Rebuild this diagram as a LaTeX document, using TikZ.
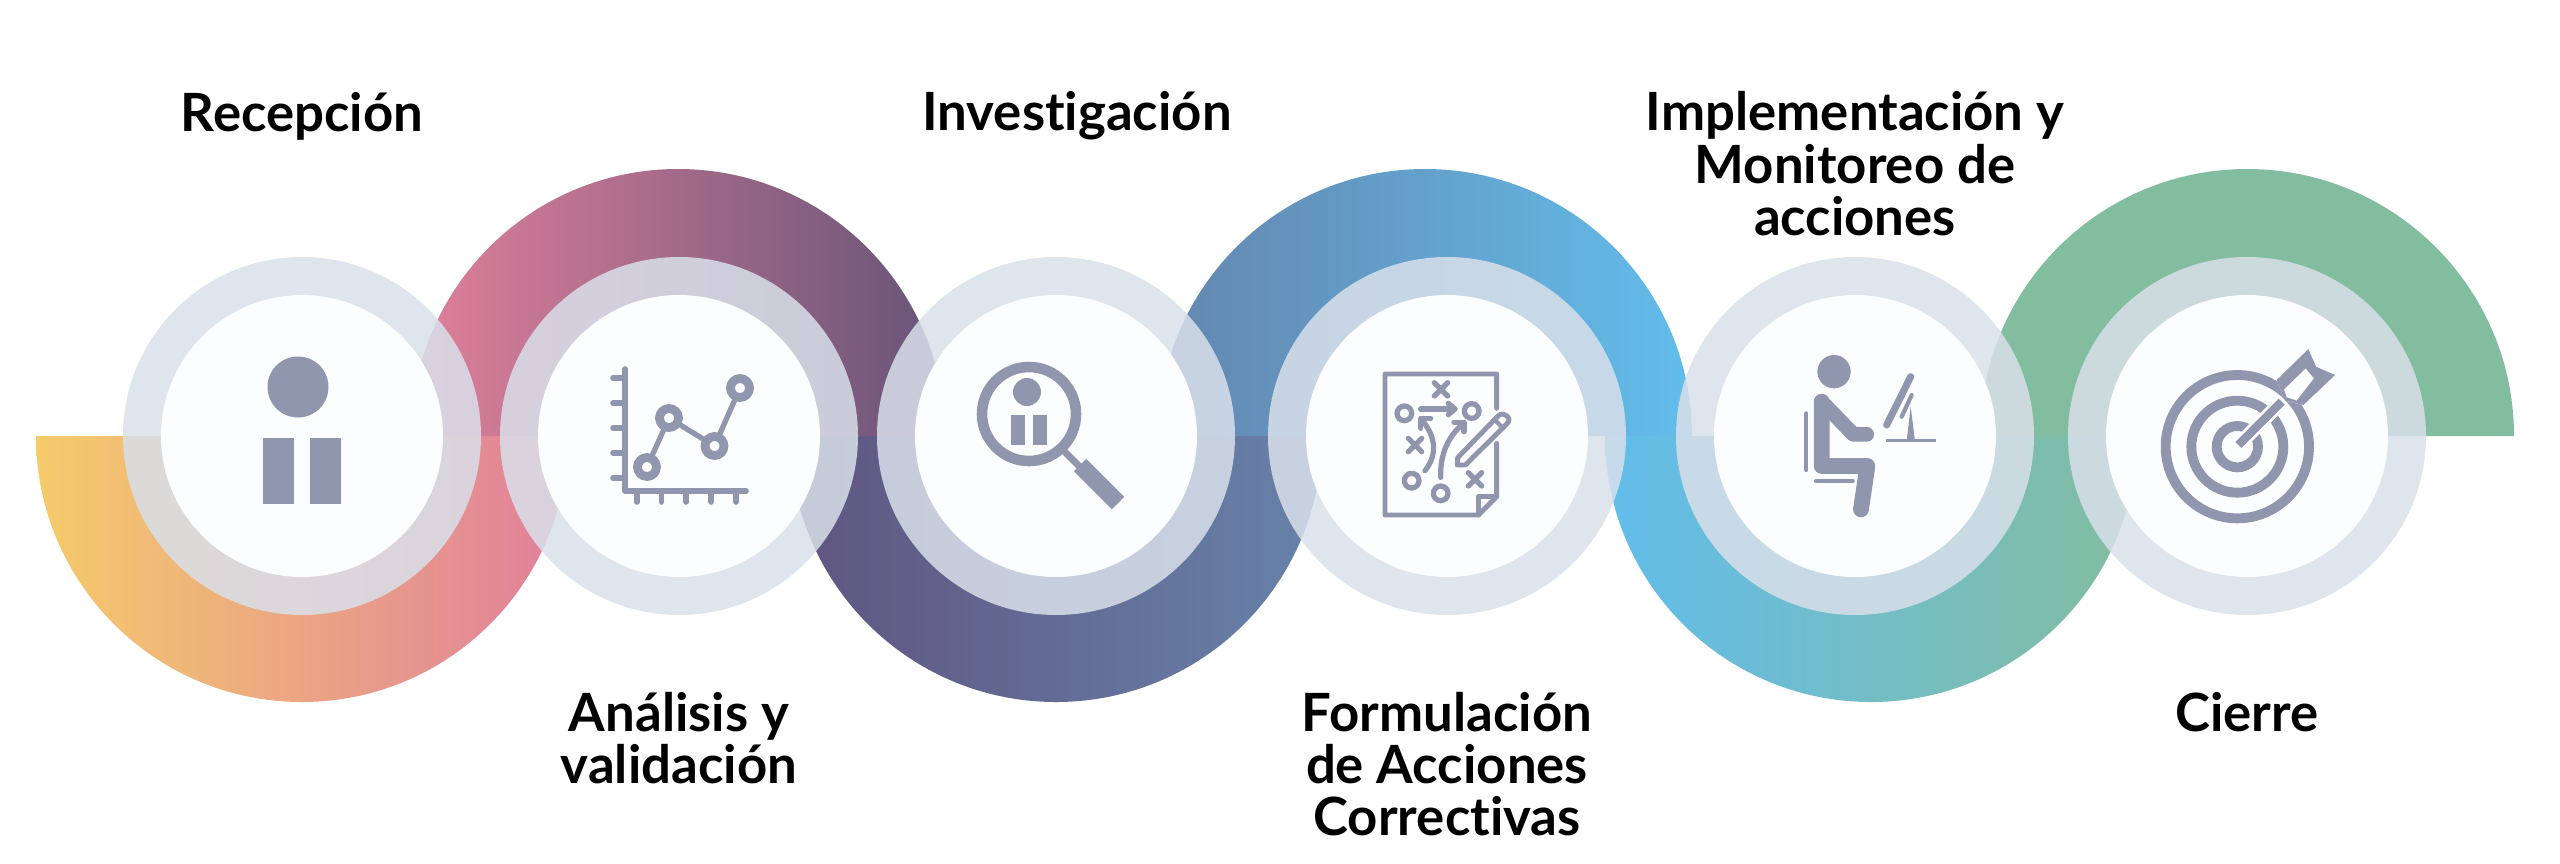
\documentclass[tikz,border=0pt]{standalone}
\usepackage{fontspec}
\setmainfont{Lato}[Ligatures=NoCommon]
\usetikzlibrary{calc,arrows.meta}
\definecolor{bandyellow}{HTML}{F5CB6B}
\definecolor{bandpink}{HTML}{E07F9C}
\definecolor{bandrose}{HTML}{E0809A}
\definecolor{bandplum}{HTML}{665478}
\definecolor{bandgrape}{HTML}{5F5580}
\definecolor{bandslate}{HTML}{6782A9}
\definecolor{bandsteel}{HTML}{6486AE}
\definecolor{bandsky}{HTML}{62BDEB}
\definecolor{bandgreen}{HTML}{83BDA0}
\definecolor{ringcol}{HTML}{D9E0EA}
\definecolor{discol}{HTML}{FCFDFE}
\definecolor{iconcol}{HTML}{9196AF}
\tikzset{
    steplabel/.style={font=\fontsize{15}{14.9}\selectfont\bfseries,align=center,text=black,inner sep=0pt},
    iconline/.style={draw=iconcol,line width=#1,line cap=round,line join=round},
    iconfill/.style={fill=iconcol,draw=none}
}

\begin{document}
\begin{tikzpicture}[x=0.01cm,y=-0.01cm]
    \useasboundingbox (0,0) rectangle (2560,863);
    \foreach \cx/\colL/\colR in {302/bandyellow/bandpink,1056/bandgrape/bandslate,1871/bandsky/bandgreen}
        \shade[left color=\colL,right color=\colR] (\cx-266,436) arc[start angle=180,end angle=0,radius=266] -- cycle;
    \foreach \cx/\colL/\colR in {678/bandrose/bandplum,1425/bandsteel/bandsky,2247/bandgreen/bandgreen}
        \shade[left color=\colL,right color=\colR] (\cx-267,436) arc[start angle=180,end angle=360,radius=267] -- cycle;
    \foreach \cx in {302,679,1056,1447,1855,2247} {
        \fill[ringcol,opacity=0.85] (\cx,436) circle[radius=179];
        \fill[discol] (\cx,436) circle[radius=141];
    }

    \fill[iconfill] (298,387) circle[radius=30.5];
    \fill[iconfill] (263,438) rectangle (294,504);
    \fill[iconfill] (310,438) rectangle (341,504);

    \draw[iconline=1.6pt] (625,369) -- (625,491) -- (746,491);
    \foreach \y in {378,403,428,453,478}
        \draw[iconline=1.6pt] (613,\y) -- (625,\y);
    \foreach \x in {637,661.5,686,711,736}
        \draw[iconline=1.6pt] (\x,491) -- (\x,502);
    \draw[iconline=1.5pt] (647,467) -- (669,418) -- (714.5,446) -- (740,388);
    \foreach \x/\y in {647/467,669/418,714.5/446,740/388}
        \draw[iconline=2.5pt,fill=discol] (\x,\y) circle[radius=9.5];

    \draw[iconline=3pt] (1029,414) circle[radius=47];
    \fill[iconfill] (1027,392) circle[radius=14];
    \fill[iconfill] (1011,415) rectangle (1025,445);
    \fill[iconfill] (1033,415) rectangle (1047,445);
    \draw[iconline=2pt] (1065,452) -- (1080,467);
    \draw[iconcol,line width=5pt,line join=round] (1080,465) -- (1118,503);

    \begin{scope}[shift={(1360,350)},scale=1/3]
        \draw[iconline=1.4pt] (410,175) -- (410,72) -- (75,72) -- (75,495) -- (355,495) -- (410,440) -- (410,280);
        \draw[iconline=1.4pt] (355,495) -- (355,440) -- (410,440);
        \foreach \x/\y in {133/190,335/183,155/392,242/430}
            \draw[iconline=1.5pt] (\x,\y) circle[radius=22];
        \foreach \x/\y in {243/118,165/285,345/388}
            \draw[iconline=1.5pt] (\x-20,\y-20) -- (\x+20,\y+20) (\x-20,\y+20) -- (\x+20,\y-20);
        \draw[iconline=1.5pt] (182,177) -- (282,177);
        \draw[iconline=1.5pt] (265,160) -- (285,177) -- (265,194);
        \draw[iconline=1.5pt] (195,362) .. controls (235,310) and (225,260) .. (188,212);
        \draw[iconline=1.5pt] (182,235) -- (182,205) -- (212,205);
        \draw[iconline=1.5pt] (242,382) .. controls (240,310) and (265,260) .. (308,222);
        \draw[iconline=1.5pt] (282,217) -- (312,217) -- (312,245);
        \draw[iconline=1.4pt] (292,345) -- (293,323) -- (415,197) .. controls (430,182) and (460,205) .. (440,222) -- (316,345) -- cycle;
        \draw[iconline=1.2pt] (403,209) -- (430,235);
    \end{scope}

    \begin{scope}[shift={(1760,340)},scale=1/3]
        \fill[iconfill] (222,95) circle[radius=50];
        \draw[iconline=4.5pt] (185,185) -- (185,378) -- (322,378) -- (303,508);
        \draw[iconline=4.2pt] (185,185) -- (280,283) -- (320,283);
        \draw[iconline=1.2pt] (139,220) -- (139,390);
        \draw[iconline=1.2pt] (168,423) -- (278,423);
        \draw[iconline=2pt] (380,255) -- (452,110);
        \draw[iconline=1.2pt] (425,230) -- (455,165);
        \fill[iconfill] (452,200) -- (440,302) -- (465,302) -- cycle;
        \draw[iconcol,line width=0.7pt] (378,302) -- (528,302);
    \end{scope}

    \begin{scope}[shift={(2140,330)},scale=1/3]
        \foreach \r in {215,138,62}
            \draw[iconcol,line width=2.8pt] (292,350) circle[radius=\r];
        \draw[discol,line width=4pt] (295,345) -- (420,220);
        \fill[discol] (410,150) -- (505,57) -- (585,135) -- (490,225) -- (435,212) -- cycle;
        \draw[iconcol,line width=2.4pt] (295,345) -- (425,215);
        \fill[iconfill,even odd rule] (505,57) -- (528,110) -- (585,135) -- (490,225) -- (435,212) -- (410,150) -- cycle
            (497,115) -- (522,145) -- (470,212) -- (440,202) -- (432,178) -- cycle;
    \end{scope}

    \node[steplabel] (recepcion) at (302,116) {Recepción};
    \node[steplabel] (analisis) at (679,738) {Análisis y\\validación};
    \node[steplabel] (investigacion) at (1077,116) {Investigación};
    \node[steplabel] (formulacion) at (1447,764) {Formulación\\de Acciones\\Correctivas};
    \node[steplabel] (implementacion) at (1855,164) {Implementación y\\Monitoreo de\\acciones};
    \node[steplabel] (cierre) at (2247,712) {Cierre};
\end{tikzpicture}
\end{document}
